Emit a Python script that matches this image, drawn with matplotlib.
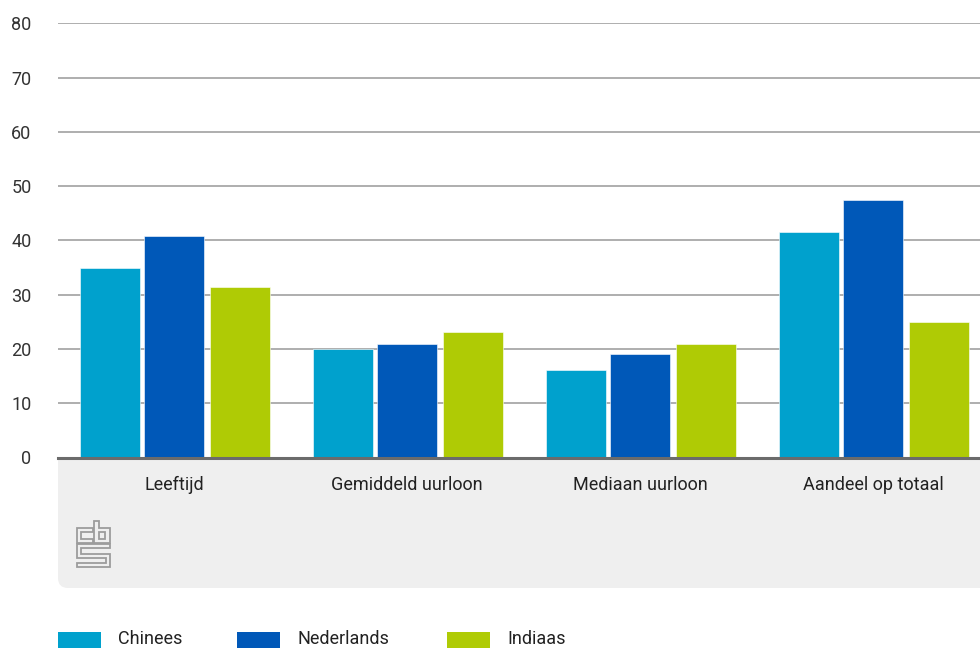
import matplotlib
matplotlib.use("Agg")
import matplotlib.pyplot as plt
from matplotlib.patches import FancyBboxPatch, Rectangle, Polygon
from matplotlib.transforms import IdentityTransform
import numpy as np

plt.rcParams['font.family'] = ['Roboto', 'DejaVu Sans']

# data
categorieen = ["Leeftijd", "Gemiddeld uurloon", "Mediaan uurloon", "Aandeel op totaal"]
reeksen = ["Chinees", "Nederlands", "Indiaas"]
chinees = [35.0, 20.0, 16.2, 41.5]
nederlands = [40.8, 20.9, 19.0, 47.4]
indiaas = [31.5, 23.1, 20.9, 24.9]
yticks = [0, 10, 20, 30, 40, 50, 60, 70, 80]

kleuren = ["#00a1cd", "#0058b8", "#afcb05"]
waarden = [chinees, nederlands, indiaas]

W, H = 980, 648
fig = plt.figure(figsize=(W / 100, H / 100), dpi=100)

# grijze band onder de as (afgeronde hoek linksonder)
band = FancyBboxPatch((58, H - 588), 960, 588 - 459,
                      boxstyle="round,pad=0,rounding_size=10",
                      transform=IdentityTransform(), facecolor="#efefef",
                      edgecolor="none", zorder=-2)
fig.patches.append(band)
fig.patches.append(Rectangle((58, H - 520), 960, 61, transform=IdentityTransform(),
                             facecolor="#efefef", edgecolor="none", zorder=-2))

left = 57.5
ax = fig.add_axes([left / W, (H - 457.5) / H, (W - left) / W, (457.5 - 23.3) / H])
ax.set_facecolor("none")

x = np.arange(len(categorieen))
offsets = [-0.276, 0.0, 0.282]
breedte = 0.257
for vals, kleur, off, naam in zip(waarden, kleuren, offsets, reeksen):
    ax.bar(x + off, vals, width=breedte, color=kleur, label=naam, zorder=2,
           edgecolor="white", linewidth=0.4)

ax.set_ylim(0, 80)
ax.set_xlim(-0.5, -0.5 + (W - left) / 233.0)
ax.set_yticks(yticks)
ax.set_yticklabels([str(t) for t in yticks])
ax.yaxis.grid(True, color="#a8a8a8", linewidth=1.3, zorder=1)
ax.set_axisbelow(True)
ax.axhline(0, color="#6b6b6b", linewidth=2.2, zorder=3, clip_on=False)
for s in ax.spines.values():
    s.set_visible(False)

ax.set_xticks(x)
ax.set_xticklabels(categorieen)
ax.tick_params(axis="x", length=0, pad=13, labelsize=13, labelcolor="#222222")
ax.tick_params(axis="y", length=0, pad=18.7, labelsize=13, labelcolor="#333333")

# cbs logo (vereenvoudigd)
logo = [
    [(93, 528), (77, 528), (77, 543), (93, 543), (93, 539), (81, 539), (81, 532), (93, 532)],
    [(94, 521), (94, 543), (110, 543), (110, 528), (99, 528), (99, 521)],
    [(99, 532), (105, 532), (105, 539), (99, 539)],
    [(110, 544), (77, 544), (77, 558), (106, 558), (106, 563), (77, 563), (77, 567),
     (110, 567), (110, 554), (81, 554), (81, 548), (110, 548)],
]
for pts in logo:
    fig.patches.append(Polygon([(p[0], H - p[1]) for p in pts], closed=True,
                               transform=IdentityTransform(), facecolor="none",
                               edgecolor="#9c9c9c", linewidth=1.3, zorder=1))

# legenda
leg_x = [58, 237, 447]
for naam, kleur, lx in zip(reeksen, kleuren, leg_x):
    fig.patches.append(Rectangle((lx, H - 648), 43, 16, transform=IdentityTransform(),
                                 facecolor=kleur, edgecolor="none"))
    fig.text((lx + 60) / W, (H - 638.5) / H, naam, fontsize=13, color="#222222",
             va="center", ha="left")

fig.savefig("out.png", dpi=100)
